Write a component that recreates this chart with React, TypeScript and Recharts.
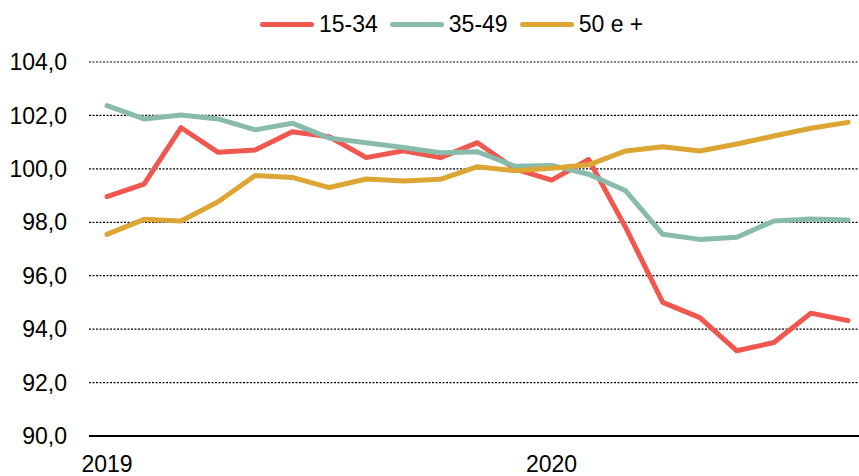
import { LineChart, Line, XAxis, YAxis, CartesianGrid, Legend } from 'recharts';

const months = [
    '2019-01', '2019-02', '2019-03', '2019-04', '2019-05', '2019-06', '2019-07',
    '2019-08', '2019-09', '2019-10', '2019-11', '2019-12',
    '2020-01', '2020-02', '2020-03', '2020-04', '2020-05', '2020-06', '2020-07',
    '2020-08', '2020-09',
];

const age15to34 = [
    98.96, 99.43, 101.54, 100.62, 100.71, 101.39, 101.2, 100.42, 100.68, 100.42, 100.98,
    100.0, 99.58, 100.35, 97.8, 95.0, 94.43, 93.19, 93.5, 94.6, 94.32,
];

const age35to49 = [
    102.37, 101.87, 102.02, 101.87, 101.46, 101.71, 101.15, 100.98, 100.8, 100.6, 100.64,
    100.1, 100.13, 99.8, 99.18, 97.55, 97.36, 97.44, 98.05, 98.12, 98.09,
];

const age50plus = [
    97.55, 98.11, 98.05, 98.77, 99.75, 99.68, 99.3, 99.62, 99.55, 99.61, 100.08,
    99.93, 100.02, 100.15, 100.67, 100.83, 100.67, 100.93, 101.23, 101.52, 101.74,
];

const yTicks = [90, 92, 94, 96, 98, 100, 102, 104];
const xTicks = ['2019-01', '2020-01'];

const series = [
    { key: 'a', name: '15-34', values: age15to34, color: '#F0574F' },
    { key: 'b', name: '35-49', values: age35to49, color: '#88BBAB' },
    { key: 'c', name: '50 e +', values: age50plus, color: '#DDA634' },
];

const data = months.map((m, i) => {
    const row: Record<string, string | number> = { month: m };
    series.forEach((s) => { row[s.key] = s.values[i]; });
    return row;
});

const font = '"Liberation Sans", Arial, sans-serif';

function LegendRow() {
    return (
        <div style={{ display: 'flex', alignItems: 'center', height: 40, paddingLeft: 260, fontFamily: font, fontSize: 23, color: '#000' }}>
            {series.map((s) => (
                <div key={s.key} style={{ display: 'flex', alignItems: 'center', marginRight: 12 }}>
                    <span style={{ display: 'inline-block', width: 54, height: 5, borderRadius: 3, background: s.color, marginRight: 5 }}></span>
                    <span>{s.name}</span>
                </div>
            ))}
        </div>
    );
}

export default function App() {
    return (
        <div style={{ position: 'absolute', left: 0, top: 0, background: '#fff' }}>
            <LineChart width={859} height={476} data={data} margin={{ top: 22, right: 0, left: 0, bottom: 10 }}>
                <CartesianGrid vertical={false} stroke="#000" strokeDasharray="2 1.5" strokeWidth={1.2} />
                <XAxis
                    dataKey="month"
                    ticks={xTicks}
                    tickFormatter={(v: string) => v.slice(0, 4)}
                    interval={0}
                    padding={{ left: 18, right: 11 }}
                    axisLine={{ stroke: '#000', strokeWidth: 2 }}
                    tickLine={false}
                    tickSize={6}
                    tickMargin={14}
                    height={30}
                    tick={{ fill: '#000', fontSize: 23, fontFamily: font }}
                />
                <YAxis
                    domain={[90, 104]}
                    ticks={yTicks}
                    tickFormatter={(v: number) => v.toFixed(1).replace('.', ',')}
                    axisLine={false}
                    tickLine={false}
                    tickSize={6}
                    tickMargin={16}
                    width={89}
                    tick={{ fill: '#000', fontSize: 23, fontFamily: font }}
                />
                <Legend verticalAlign="top" wrapperStyle={{ top: 4, left: 0 }} content={() => <LegendRow />} />
                {series.map((s) => (
                    <Line
                        key={s.key}
                        dataKey={s.key}
                        name={s.name}
                        stroke={s.color}
                        strokeWidth={5}
                        strokeLinejoin="round"
                        strokeLinecap="round"
                        dot={false}
                        isAnimationActive={false}
                    />
                ))}
            </LineChart>
        </div>
    );
}
